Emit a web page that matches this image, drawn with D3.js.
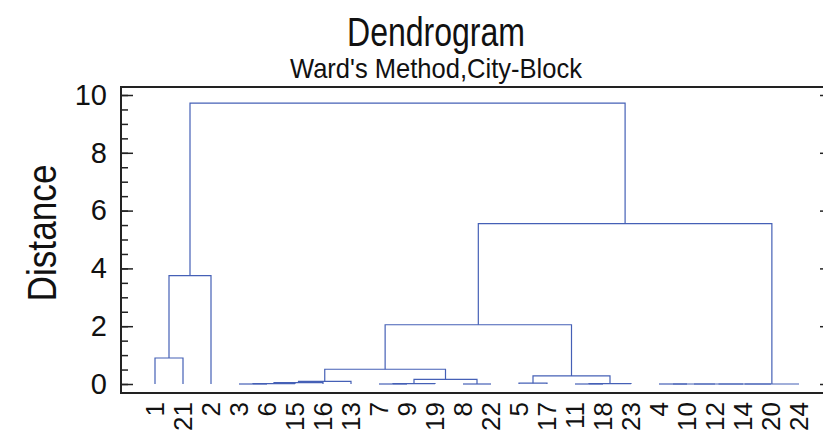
<!DOCTYPE html>
<html>
<head>
<meta charset="utf-8">
<script src="https://cdn.jsdelivr.net/npm/d3@7"></script>
<style>
  body { margin: 0; background: #fff; }
  text { font-family: "Liberation Sans", Arial, Helvetica, sans-serif; fill: #111; }
</style>
</head>
<body>
<div id="chart"></div>
<script>
// leaf order along the x axis
const leafOrder = ['1', '21', '2', '3', '6', '15', '16', '13', '7', '9', '19', '8', '22',
  '5', '17', '11', '18', '23', '4', '10', '12', '14', '20', '24'];

// merges: left child, right child (leaf label or index of earlier merge), distance
const mergeLeft = ['1', 0, '3', 2, 3, 4, '7', 6, '8', 7, 5, '5', '11', 12, 11, 10, '4', 16, 17, 18, 19, 15, 1];
const mergeRight = ['21', '2', '6', '15', '16', '13', '9', '19', '22', 8, 9, '17', '18', '23', 13, 14, '10', '12', '14', '20', '24', 20, 21];
const mergeHeight = [0.9, 3.75, 0.0, 0.01, 0.05, 0.09, 0.0, 0.01, 0.0, 0.16, 0.51, 0.03, 0.0, 0.01, 0.28, 2.05, 0.0, 0.0, 0.0, 0.0, 0.0, 5.55, 9.72];

const majorTicks = [0, 2, 4, 6, 8, 10];
const minorTicks = d3.range(0, 10.01, 0.5);

const width = 823;
const height = 433;
const plot = { left: 121, right: 832, top: 87, bottom: 393 };

const svg = d3.select('#chart').
  append('svg').
  attr('width', width).
  attr('height', height);

const x = d3.scalePoint().
  domain(leafOrder).
  range([155, 799]);

const y = d3.scaleLinear().
  domain([0, 10]).
  range([384, 95]);

// node positions: leaves at 0, merges at midpoint of their children
function pos(id) {
  if (typeof id === 'string') {
    return { x: x(id), h: 0 };
  }
  return nodes[id];
}
const nodes = [];
mergeLeft.forEach(function (l, i) {
  const a = pos(l);
  const b = pos(mergeRight[i]);
  nodes.push({ x: (a.x + b.x) / 2, h: mergeHeight[i], a: a, b: b });
});

// titles
svg.append('text').
  attr('x', 436).
  attr('y', 46).
  attr('text-anchor', 'middle').
  attr('font-size', 40).
  attr('textLength', 178).
  attr('lengthAdjust', 'spacingAndGlyphs').
  text('Dendrogram');

svg.append('text').
  attr('x', 436).
  attr('y', 78).
  attr('text-anchor', 'middle').
  attr('font-size', 28).
  attr('textLength', 292).
  attr('lengthAdjust', 'spacingAndGlyphs').
  text("Ward's Method,City-Block");

svg.append('text').
  attr('transform', 'translate(' + 56 + ', ' + 233 + ') rotate(-90)').
  attr('text-anchor', 'middle').
  attr('font-size', 41).
  attr('textLength', 137).
  attr('lengthAdjust', 'spacingAndGlyphs').
  text('Distance');

// tree links
const links = svg.append('g').
  attr('fill', 'none').
  attr('stroke', '#4560b6').
  attr('stroke-width', 1.2);

links.selectAll('path').
  data(nodes).
  enter().
  append('path').
  attr('d', d => 'M' + d.a.x + ',' + y(d.a.h) +
    'V' + y(d.h) + 'H' + d.b.x + 'V' + y(d.b.h));

// axes
const leftMinor = d3.axisLeft(y).
  tickValues(minorTicks).
  tickSize(-7).
  tickSizeOuter(0).
  tickFormat('');
const leftMajor = d3.axisLeft(y).
  tickValues(majorTicks).
  tickSize(-12).
  tickSizeOuter(0).
  tickPadding(14);
const rightMajor = d3.axisRight(y).
  tickValues(majorTicks).
  tickSize(-12).
  tickSizeOuter(0).
  tickFormat('');

svg.append('g').
  attr('transform', 'translate(' + plot.left + ',0)').
  call(leftMinor);
const lm = svg.append('g').
  attr('transform', 'translate(' + plot.left + ',0)').
  call(leftMajor);
lm.selectAll('text').
  attr('font-size', 29).
  attr('font-family', '"Liberation Sans", Arial, sans-serif').
  attr('fill', '#111');
svg.append('g').
  attr('transform', 'translate(' + plot.right + ',0)').
  call(rightMajor);

svg.selectAll('.domain').remove();
svg.selectAll('.tick line').
  attr('stroke', '#222').
  attr('stroke-width', 1.5);

// frame
svg.append('rect').
  attr('x', plot.left).
  attr('y', plot.top).
  attr('width', plot.right - plot.left).
  attr('height', plot.bottom - plot.top).
  attr('fill', 'none').
  attr('stroke', '#222').
  attr('stroke-width', 2);

// leaf labels
svg.append('g').
  selectAll('text').
  data(leafOrder).
  enter().
  append('text').
  attr('transform', d => 'translate(' + x(d) + ', ' + 402 + ') rotate(-90)').
  attr('text-anchor', 'end').
  attr('dy', '0.36em').
  attr('font-size', 26).
  text(d => d);
</script>
</body>
</html>
